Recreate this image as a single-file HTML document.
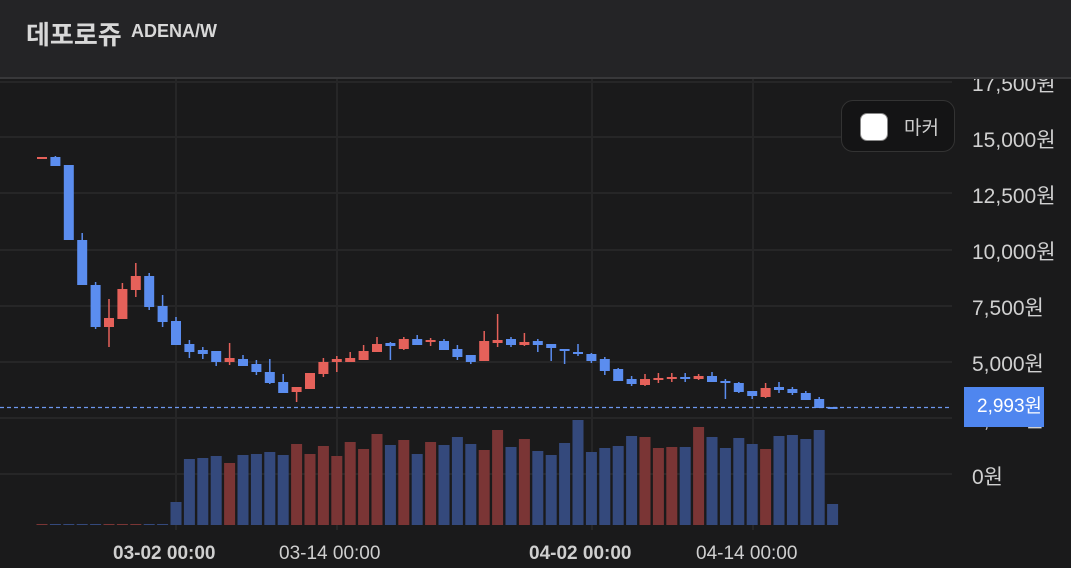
<!DOCTYPE html>
<html><head><meta charset="utf-8">
<style>
html,body{margin:0;padding:0;background:#1a1a1b;width:1071px;height:568px;overflow:hidden;font-family:"Liberation Sans","Noto Sans CJK KR",sans-serif;}
#hdr{position:absolute;left:0;top:0;width:1071px;height:77px;background:#242426;border-bottom:2px solid #38383a;z-index:5;}
#title{position:absolute;left:26px;top:15px;color:#d8d8d8;font-size:26px;font-weight:bold;font-family:"Noto Sans CJK KR",sans-serif;}
#sub{position:absolute;left:131px;top:21px;color:#d8d8d8;font-size:18px;font-weight:bold;}
svg{position:absolute;left:0;top:0;}
#marker{position:absolute;left:841px;top:100px;width:114px;height:52px;border:1px solid #333;border-radius:12px;background:#141415;box-sizing:border-box;}
#marker .b{position:absolute;left:18px;top:12px;width:28px;height:28px;background:#fff;border-radius:7px;border:1px solid #888;box-sizing:border-box;}
#marker .t{position:absolute;left:62px;top:12px;color:#ccc;font-size:19px;font-family:"Noto Sans CJK KR",sans-serif;}
.yl{position:absolute;left:972px;color:#d0d0d0;font-size:21px;white-space:nowrap;font-family:"Liberation Sans","Noto Sans CJK KR",sans-serif;}
.xl{position:absolute;top:543px;color:#cfcfcf;font-size:19px;white-space:nowrap;}
#price{position:absolute;left:964px;top:387px;width:80px;height:40px;overflow:hidden;background:#4f86ef;color:#fff;font-size:19px;line-height:40px;padding-left:13px;box-sizing:border-box;white-space:nowrap;font-family:"Liberation Sans","Noto Sans CJK KR",sans-serif;}
</style></head><body>
<svg id="s" width="1071" height="568"></svg>
<div id="hdr"><div id="title">데포로쥬</div><div id="sub">ADENA/W</div></div>
<div id="marker"><div class="b"></div><div class="t">마커</div></div>
<div class="yl" style="top:68px">17,500원</div>
<div class="yl" style="top:124px">15,000원</div>
<div class="yl" style="top:180px">12,500원</div>
<div class="yl" style="top:236px">10,000원</div>
<div class="yl" style="top:292px">7,500원</div>
<div class="yl" style="top:348px">5,000원</div>
<div class="yl" style="top:404px">2,500원</div>
<div class="yl" style="top:461px">0원</div>
<div id="price">2,993원</div>
<div class="xl" style="left:113px;font-weight:bold;">03-02 00:00</div>
<div class="xl" style="left:279px;">03-14 00:00</div>
<div class="xl" style="left:529px;font-weight:bold;">04-02 00:00</div>
<div class="xl" style="left:696px;">04-14 00:00</div>
<script>
var s=document.getElementById('s'),h='';
[82,137,193,250,306,362,418,474].forEach(function(y){h+='<line x1="0" x2="952" y1="'+y+'" y2="'+y+'" stroke="#262627" stroke-width="2"/>';});
[176,337,592,753].forEach(function(x){h+='<line x1="'+x+'" x2="'+x+'" y1="79" y2="530" stroke="#262627" stroke-width="2"/>';});
var c=[[157,159,157,159,1],[157,166,156,166,0],[165,240,165,240,0],[240,285,233,285,0],[285,327,282,329,0],[318,327,299,347,1],[289,319,283,319,1],[276,290,263,297,1],[276,307,273,310,0],[306,322,295,327,0],[321,345,317,345,0],[344,352,340,358,0],[350,354,347,359,0],[351,362,351,366,0],[358,362,343,365,1],[359,366,355,366,0],[364,372,360,375,0],[372,383,359,384,0],[382,393,374,393,0],[387,392,387,402,1],[373,389,373,389,1],[362,374,358,377,1],[359,362,356,372,1],[358,362,352,362,1],[351,360,345,360,1],[344,352,337,352,1],[343,346,342,360,0],[339,349,337,350,1],[339,345,335,345,0],[340,342,338,346,1],[341,350,339,350,0],[349,357,345,360,0],[355,362,355,364,0],[341,361,331,361,1],[340,343,314,347,1],[339,345,337,347,0],[342,345,333,346,1],[341,345,339,352,0],[344,348,344,361,0],[349,351,349,364,0],[352,354,344,356,0],[354,361,353,363,0],[359,371,357,375,0],[369,381,368,381,0],[379,384,376,386,0],[379,385,374,386,1],[378,380,373,383,1],[377,379,373,382,1],[377,379,373,382,0],[376,379,374,380,1],[376,382,372,382,0],[381,382,379,399,0],[383,392,382,393,0],[391,396,391,399,0],[388,397,383,398,1],[387,390,382,393,0],[389,393,387,395,0],[393,400,391,400,0],[399,408,397,408,0],[407,408,407,408,0]];
var v=[524,524,524,524,524,524,524,524,524,524,502,459,458,456,463,455,454,452,455,444,454,446,456,442,449,434,445,440,454,442,445,437,444,450,430,447,439,451,455,443,420,452,448,446,436,437,448,447,447,427,437,448,438,444,449,436,435,439,430,504];
for(var i=0;i<60;i++){var x=42+i*13.4;var d=c[i];var col=d[4]?'#e5615a':'#5b8def';var vc=d[4]?'#7a3535':'#34497c';
h+='<rect x="'+(x-5.5)+'" y="'+v[i]+'" width="11" height="'+(525-v[i])+'" fill="'+vc+'"/>';
h+='<line x1="'+x+'" x2="'+x+'" y1="'+d[2]+'" y2="'+d[3]+'" stroke="'+col+'" stroke-width="1.5"/>';
h+='<rect x="'+(x-5)+'" y="'+d[0]+'" width="10" height="'+Math.max(2,d[1]-d[0])+'" fill="'+col+'"/>';}
h+='<line x1="0" x2="952" y1="407.5" y2="407.5" stroke="#6d97ee" stroke-width="1.2" stroke-dasharray="4,3"/>';
s.innerHTML=h;
</script>
</body></html>
